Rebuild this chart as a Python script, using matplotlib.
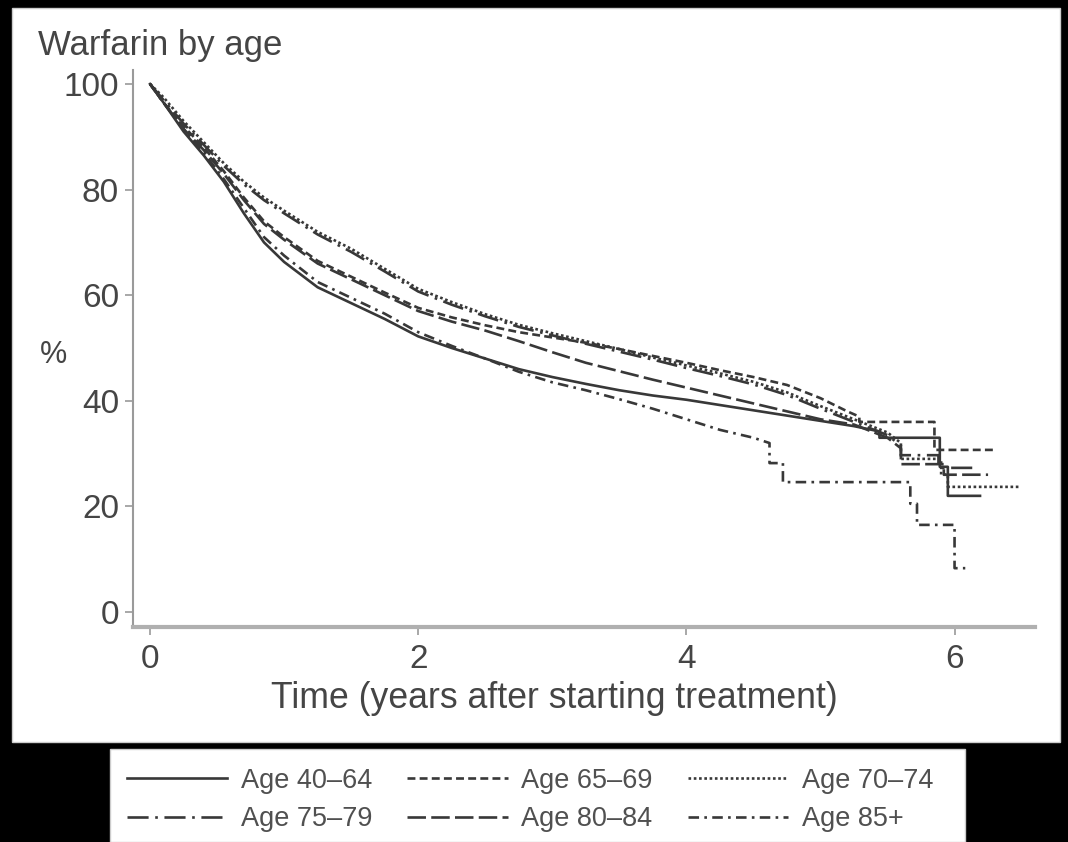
import matplotlib
matplotlib.use("Agg")
import matplotlib.pyplot as plt
from matplotlib.patches import Rectangle

plt.rcParams['font.family'] = ['Liberation Sans', 'DejaVu Sans']

# Kaplan-Meier style curves: % still on warfarin by time (years)
t_40_64 = [0, 0.1, 0.25, 0.4, 0.55, 0.7, 0.85, 1.0, 1.25, 1.5, 1.75, 2.0, 2.25, 2.5, 2.75,
           3.0, 3.25, 3.5, 3.75, 4.0, 4.25, 4.5, 4.75, 5.0, 5.25, 5.44, 5.44, 5.89, 5.89,
           5.95, 5.95, 6.19]
s_40_64 = [100, 96.5, 91, 86.5, 81.5, 75.5, 70, 66.3, 61.5, 58.5, 55.5, 52.2, 50, 48, 46,
           44.5, 43.2, 42, 41, 40.2, 39.2, 38.2, 37.2, 36.2, 35.2, 34.2, 33, 33, 27.5,
           27.5, 22, 22]

t_65_69 = [0, 0.1, 0.25, 0.4, 0.55, 0.7, 0.85, 1.0, 1.25, 1.5, 1.75, 2.0, 2.25, 2.5, 2.75,
           3.0, 3.25, 3.5, 3.75, 4.0, 4.25, 4.5, 4.75, 5.0, 5.2, 5.29, 5.29, 5.85, 5.85, 6.29]
s_65_69 = [100, 96.5, 92, 88, 83.5, 78.5, 74, 71, 66.5, 63.5, 60.5, 57.6, 55.8, 54.3, 53,
           52, 51, 49.8, 48.5, 47.2, 45.8, 44.5, 43, 40.5, 38, 37, 36, 36, 30.7, 30.7]

t_70_74 = [0, 0.1, 0.25, 0.4, 0.55, 0.7, 0.85, 1.0, 1.25, 1.5, 1.75, 2.0, 2.25, 2.5, 2.75,
           3.0, 3.25, 3.5, 3.75, 4.0, 4.25, 4.5, 4.75, 5.0, 5.25, 5.5, 5.6, 5.6, 5.9, 5.9,
           5.95, 5.95, 6.49]
s_70_74 = [100, 97.5, 93, 89, 85, 81.5, 78.5, 76, 72, 68.8, 65, 61.2, 58.7, 56.4, 54.4,
           52.8, 51.3, 49.8, 48.2, 46.7, 45.2, 43.6, 41.6, 39, 36.5, 34, 32, 29, 29, 26,
           26, 23.7, 23.7]

t_75_79 = [0, 0.1, 0.25, 0.4, 0.55, 0.7, 0.85, 1.0, 1.25, 1.5, 1.75, 2.0, 2.25, 2.5, 2.75,
           3.0, 3.25, 3.5, 3.75, 4.0, 4.25, 4.5, 4.75, 5.0, 5.25, 5.5, 5.6, 5.6, 5.88, 5.88,
           6.15]
s_75_79 = [100, 97, 92.5, 88.5, 84.5, 81, 78, 75.5, 71.5, 68.2, 64.5, 60.7, 58.2, 56,
           54, 52.4, 50.8, 49.3, 47.8, 46.2, 44.7, 43.1, 41.1, 38.5, 36, 33.5, 31.5, 29.7,
           29.7, 27.3, 27.3]

t_80_84 = [0, 0.1, 0.25, 0.4, 0.55, 0.7, 0.85, 1.0, 1.25, 1.5, 1.75, 2.0, 2.25, 2.5, 2.75,
           3.0, 3.25, 3.5, 3.75, 4.0, 4.25, 4.5, 4.75, 5.0, 5.25, 5.5, 5.6, 5.6, 5.92, 5.92,
           6.25]
s_80_84 = [100, 96.5, 91.5, 87.5, 83, 78, 73.5, 70.5, 66, 63, 60, 57, 55, 53.3, 51.3,
           49.2, 47.2, 45.6, 44, 42.5, 41, 39.5, 38, 36.5, 35.5, 33, 31, 28, 28, 26, 26]

t_85 = [0, 0.1, 0.25, 0.4, 0.55, 0.7, 0.85, 1.0, 1.25, 1.5, 1.75, 2.0, 2.25, 2.5, 2.75,
        3.0, 3.25, 3.5, 3.75, 4.0, 4.25, 4.5, 4.62, 4.62, 4.72, 4.72, 5.67, 5.67, 5.72,
        5.72, 6.0, 6.0, 6.08]
s_85 = [100, 96.5, 91.5, 87, 82, 76.5, 71, 67.5, 62.5, 59.5, 56.5, 53, 50.4, 48, 45.5,
        43.5, 42, 40.3, 38.5, 36.5, 34.5, 33, 32, 28.2, 28.2, 24.6, 24.6, 20.5, 20.5,
        16.5, 16.5, 8.3, 8.3]

labels = ['Age 40–64', 'Age 65–69', 'Age 70–74', 'Age 75–79', 'Age 80–84', 'Age 85+']
series = [(t_40_64, s_40_64), (t_65_69, s_65_69), (t_70_74, s_70_74),
          (t_75_79, s_75_79), (t_80_84, s_80_84), (t_85, s_85)]
styles = ['-', (0, (3, 1.6)), (0, (1, 1)), (0, (8, 2.5, 1, 2.5)), (0, (7, 2)), (0, (4, 2, 1, 2))]

x_ticks = [0, 2, 4, 6]
y_ticks = [0, 20, 40, 60, 80, 100]

line_col = '#383838'
text_col = '#454545'
axis_col = '#9a9a9a'

fig = plt.figure(figsize=(10.68, 8.42), dpi=100, facecolor='black')

# white panels behind the plot and the legend
W, H = 1068, 842
fig.patches.append(Rectangle((12 / W, 1 - 742 / H), (1060 - 12) / W, (742 - 8) / H,
                             transform=fig.transFigure, facecolor='white', edgecolor='#cccccc',
                             lw=1, zorder=-10))
fig.patches.append(Rectangle((110 / W, 0), (965 - 110) / W, (842 - 757) / H + 0.01,
                             transform=fig.transFigure, facecolor='white', edgecolor='#cccccc',
                             lw=1, zorder=-10))

ax = fig.add_axes([133 / W, 1 - 627 / H, (1035 - 133) / W, (627 - 70) / H])
ax.set_facecolor('none')

lines = []
for (t, s), ls, lab in zip(series, styles, labels):
    ln, = ax.plot(t, s, color=line_col, lw=1.9, ls=ls, label=lab)
    lines.append(ln)

ax.set_xlim(-0.127, 6.6)
ax.set_ylim(-2.84, 102.65)
ax.set_xticks(x_ticks)
ax.set_yticks(y_ticks)
ax.tick_params(axis='both', colors=axis_col, labelcolor=text_col, length=6, width=1.2,
               labelsize=24, pad=4)
ax.tick_params(axis='x', pad=6)
for side in ['top', 'right']:
    ax.spines[side].set_visible(False)
ax.spines['left'].set_color(axis_col)
ax.spines['left'].set_linewidth(1.5)
ax.spines['bottom'].set_color('#b0b0b0')
ax.spines['bottom'].set_linewidth(3)

ax.set_xlabel('Time (years after starting treatment)', fontsize=25.7, color=text_col)
ax.xaxis.set_label_coords((554 - 133) / 902, -0.097, transform=ax.transAxes)
fig.text(40 / W, 1 - 355 / H, '%', fontsize=22, color=text_col, va='center', ha='left')
fig.text(38 / W, 1 - 46 / H, 'Warfarin by age', fontsize=25, color=text_col, va='center', ha='left')

# legend filled row by row (matplotlib fills by column)
order = [0, 3, 1, 4, 2, 5]
fig.legend(handles=[lines[i] for i in order], labels=[labels[i] for i in order], ncol=3,
           loc='center', bbox_to_anchor=(530 / W, 1 - 800 / H), frameon=False, fontsize=19.5,
           labelcolor='#505050', handlelength=3.7, handletextpad=0.5, columnspacing=1.3,
           labelspacing=0.45)

fig.savefig('out.png', dpi=100, facecolor=fig.get_facecolor())
